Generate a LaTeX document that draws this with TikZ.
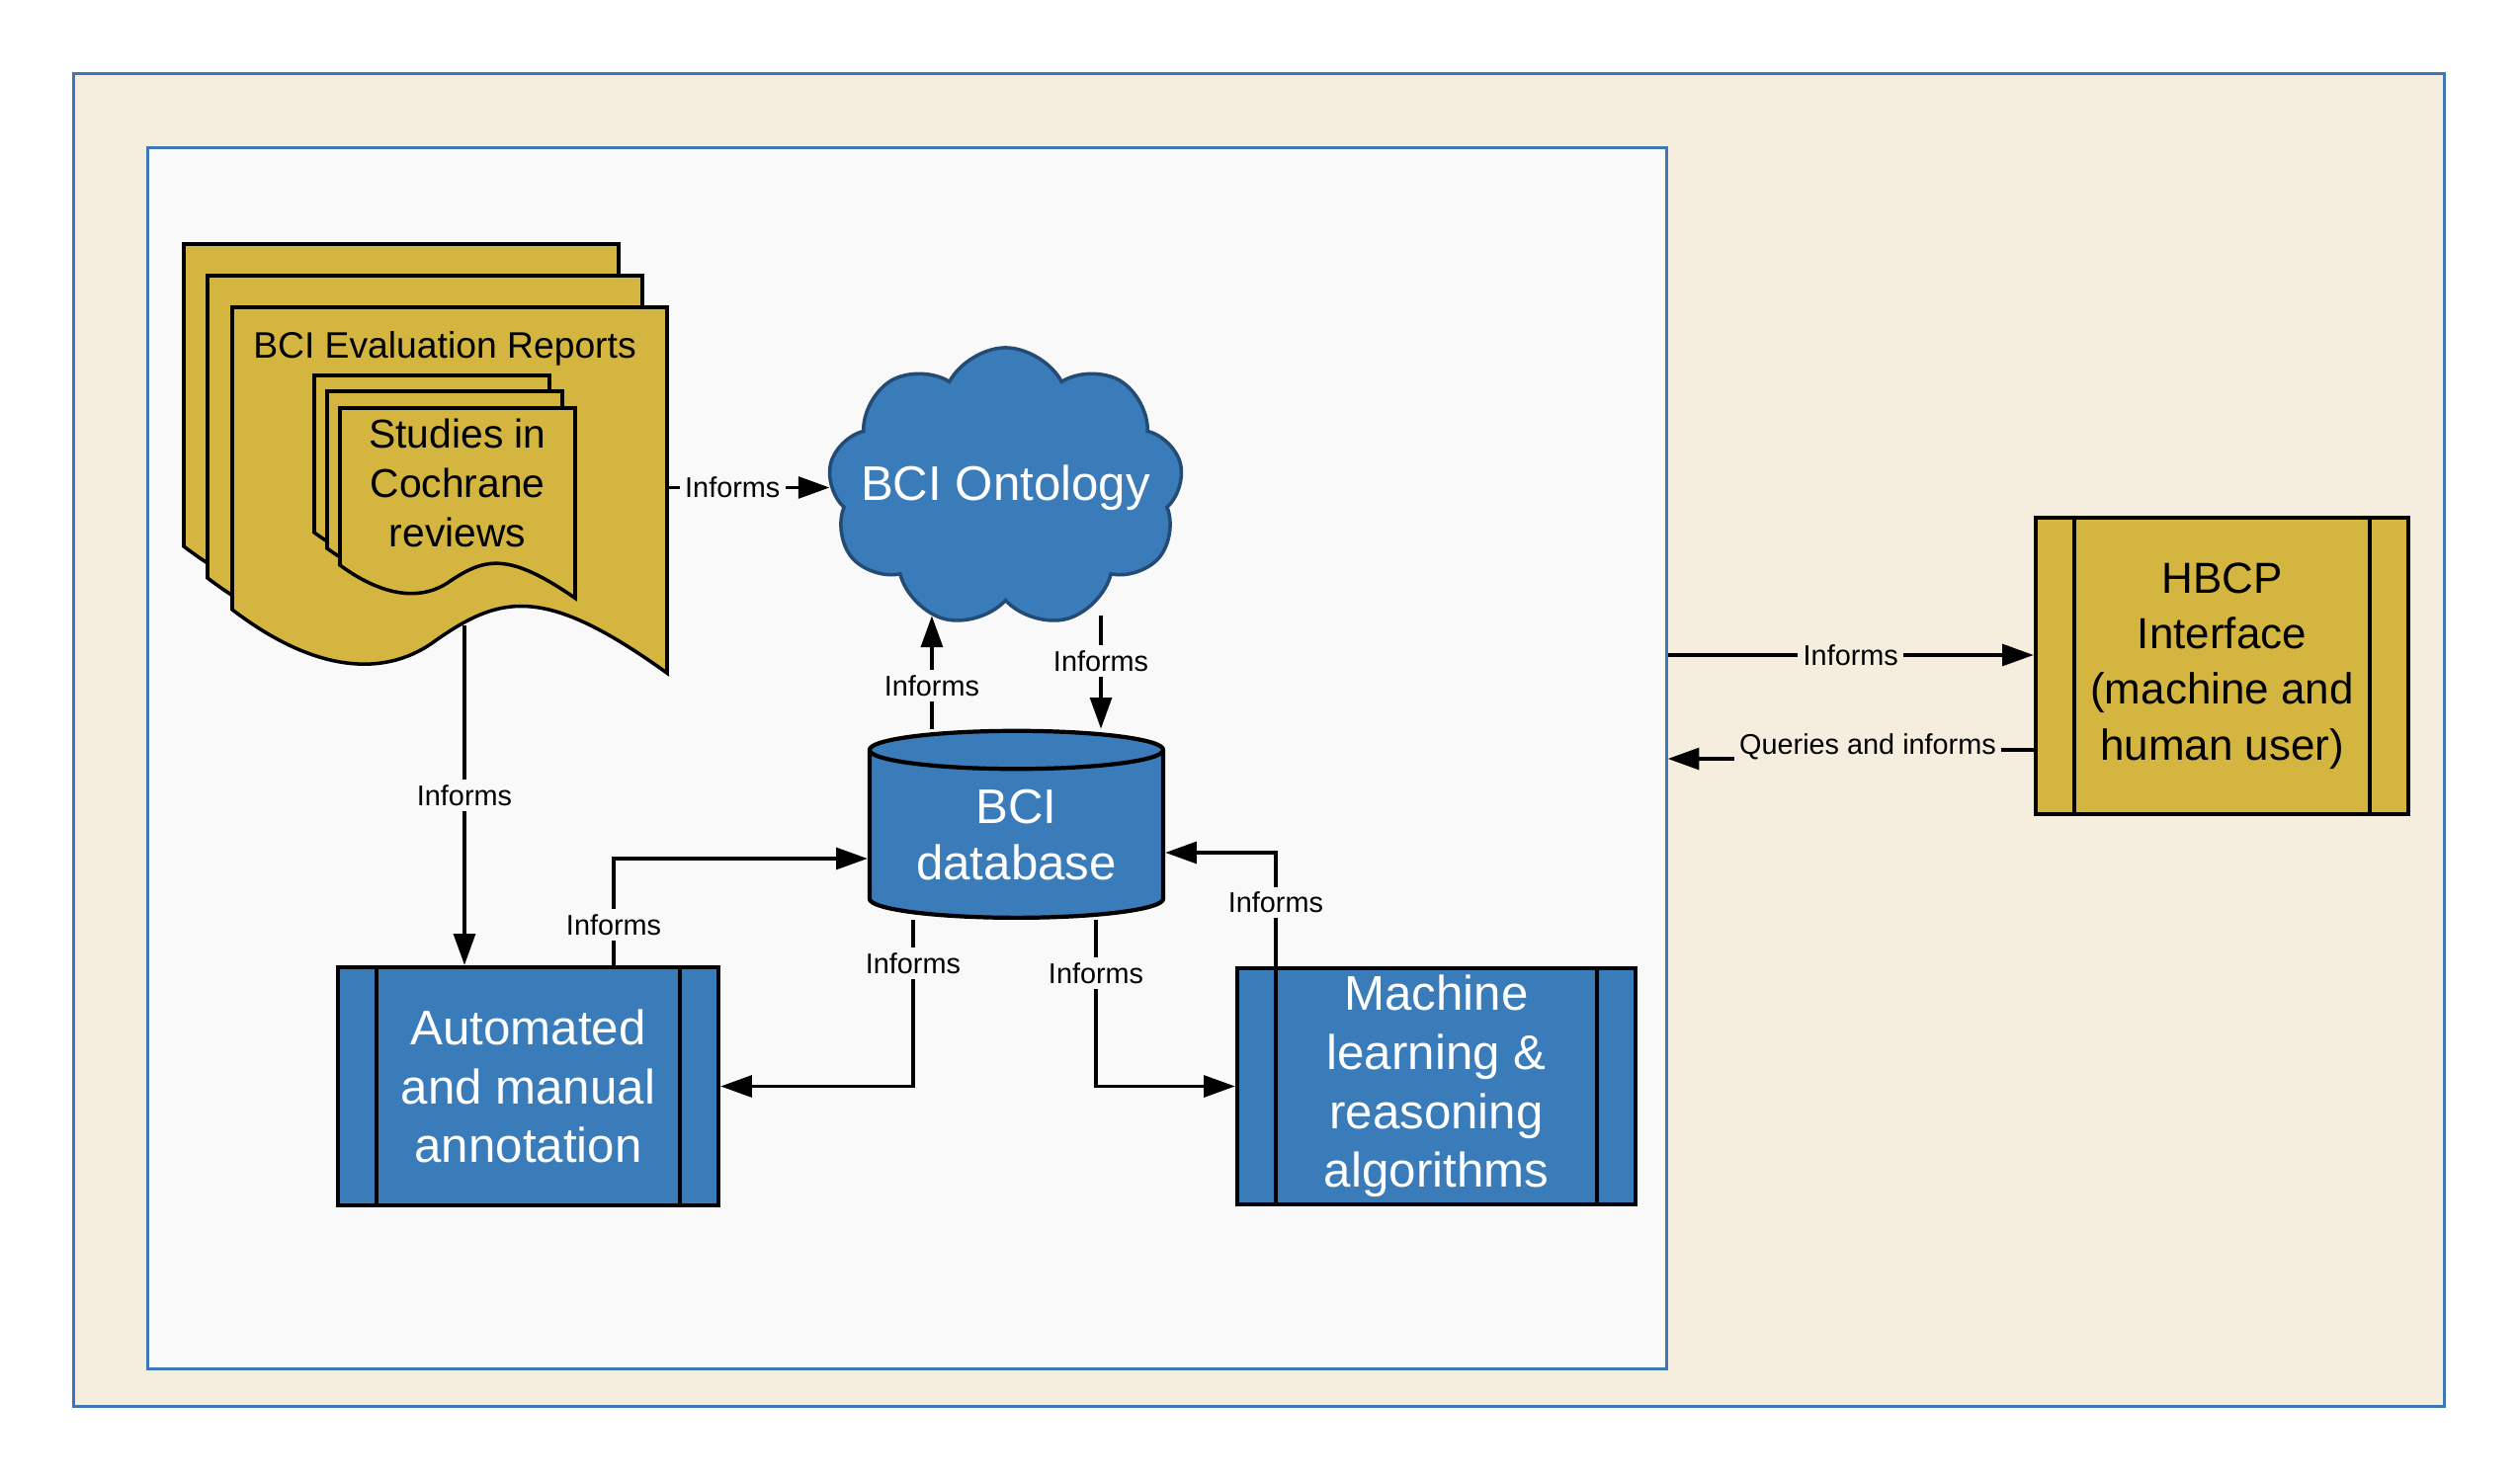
\documentclass[tikz,border=0pt]{standalone}
\usepackage{fontspec}
\setmainfont{Liberation Sans}
\usetikzlibrary{arrows.meta, shapes.geometric, shapes.symbols}

\definecolor{outerbg}{HTML}{F5EEDE}
\definecolor{innerbg}{HTML}{F9F9F9}
\definecolor{framecol}{HTML}{3B78B4}
\definecolor{bcigold}{HTML}{D4B53F}
\definecolor{bciblue}{HTML}{3A7BBA}
\definecolor{cloudline}{HTML}{234B73}

\tikzset{
  frame/.style={draw=framecol, line width=0.75pt, inner sep=0pt},
  procbox/.style={draw, line width=1.2pt, align=center, inner sep=0pt,
    path picture={
      \draw[line width=1.2pt] ([xshift=0.39cm]path picture bounding box.north west) -- ([xshift=0.39cm]path picture bounding box.south west);
      \draw[line width=1.2pt] ([xshift=-0.39cm]path picture bounding box.north east) -- ([xshift=-0.39cm]path picture bounding box.south east);
    }},
  bigtext/.style={font=\fontsize{14}{17}\selectfont},
  conn/.style={line width=1pt, -{Triangle[length=9pt,width=6.2pt]}},
  lbl/.style={font=\fontsize{8.2}{10}\selectfont, fill=innerbg, inner sep=1.5pt},
  docline/.style={draw, fill=bcigold, line width=1pt},
  pics/docpage/.style 2 args={code={
    \path[docline] (0,0) -- (#1,0) -- (#1,1.21*#2)
      .. controls (0.72*#1,0.92*#2) and (0.62*#1,0.95*#2) .. (0.47*#1,1.1*#2)
      .. controls (0.36*#1,1.22*#2) and (0.2*#1,1.22*#2) .. (0,#2) -- cycle;
  }}
}

\begin{document}
\begin{tikzpicture}[x=0.01cm, y=-0.01cm]
    \useasboundingbox (0,0) rectangle (2550,1500);

    % Frames
    \node[frame, fill=outerbg, minimum width=23.98cm, minimum height=13.48cm] (outerframe) at (1274,749) {};
    \node[frame, fill=innerbg, minimum width=15.36cm, minimum height=12.35cm] (coreframe) at (918,767.5) {};

    % Evaluation reports
    \pic at (186,247) {docpage={440}{306}};
    \pic at (210,279) {docpage={440}{306}};
    \pic at (235,311) {docpage={440}{306}};
    \node[inner sep=0pt, minimum width=4.4cm, minimum height=3.06cm] (reports) at (455,464) {};
    \node[font=\fontsize{10.6}{13}\selectfont] (reptitle) at (450,353) {BCI Evaluation Reports};
    \pic at (318,380) {docpage={238}{159}};
    \pic at (331,396) {docpage={238}{159}};
    \pic at (344,413) {docpage={238}{159}};
    \node[align=center, font=\fontsize{11.6}{14.2}\selectfont] (studies) at (463,489) {Studies in\\Cochrane\\reviews};

    % Ontology and database
    \node[cloud, cloud puffs=9, cloud puff arc=125, aspect=1.27, draw=cloudline, fill=bciblue,
          line width=1pt, inner sep=0pt, minimum width=3.59cm, minimum height=2.83cm,
          text=white, bigtext] (onto) at (1017.5,493.5) {\makebox[0pt]{BCI Ontology}};
    \node[cylinder, shape border rotate=90, aspect=0.19, draw, fill=bciblue, line width=1.2pt,
          minimum width=2.97cm, minimum height=1.89cm, inner sep=0pt, align=center,
          text=white, font=\fontsize{14}{16.2}\selectfont] (db) at (1028.5,845) {BCI\\database};

    % Processes
    \node[procbox, fill=bciblue, text=white, minimum width=3.85cm, minimum height=2.41cm, bigtext] (anno) at (534.5,1099.5) {Automated\\and manual\\annotation};
    \node[procbox, fill=bciblue, text=white, minimum width=4.03cm, minimum height=2.39cm, bigtext] (mach) at (1453.5,1099.5) {Machine\\learning \&\\reasoning\\algorithms};
    \node[procbox, fill=bcigold, minimum width=3.77cm, minimum height=3.0cm, font=\fontsize{12.5}{16}\selectfont] (hbcp) at (2248.5,674) {HBCP\\Interface\\(machine and\\human user)};

    % Connectors
    \draw[conn] (reports.east |- onto.west) -- node[lbl, pos=0.4] {Informs} (onto.west);
    \coordinate (repfoot) at (470,633);
    \draw[conn] (repfoot) -- node[lbl] {Informs} (repfoot |- anno.north);
    \draw[conn] ([xshift=0.865cm]anno.north) |- node[lbl, pos=0.19] {Informs} ([yshift=-0.24cm]db.west);
    \draw[conn] ([xshift=-1.045cm]db.south) |- node[lbl, pos=0.13] {Informs} (anno.east);
    \draw[conn] ([xshift=0.805cm]db.south) |- node[lbl, pos=0.16] {Informs} (mach.west);
    \draw[conn] ([xshift=-1.625cm]mach.north) |- node[lbl, pos=0.28] {Informs} ([yshift=-0.18cm]db.east);

    \coordinate (dbl) at ([xshift=-0.855cm]db.north);
    \coordinate (dbr) at ([xshift=0.855cm]db.north);
    \draw[conn] (dbl) -- node[lbl, pos=0.38] {Informs} (dbl |- onto.240);
    \draw[conn] (dbr |- onto.300) -- node[lbl, pos=0.4] {Informs} (dbr);

    % To and from the interface
    \coordinate (hin) at ([yshift=0.11cm]hbcp.west);
    \draw[conn] (hin -| coreframe.east) -- node[lbl, fill=outerbg] {Informs} (hin);
    \coordinate (qa) at ([yshift=-0.85cm]hbcp.west);
    \coordinate (qm) at (1890,768);
    \draw[conn] (qa) -| (qm) -- node[lbl, fill=outerbg, pos=0, yshift=0.12cm] {Queries and informs} (qm -| coreframe.east);
\end{tikzpicture}
\end{document}
